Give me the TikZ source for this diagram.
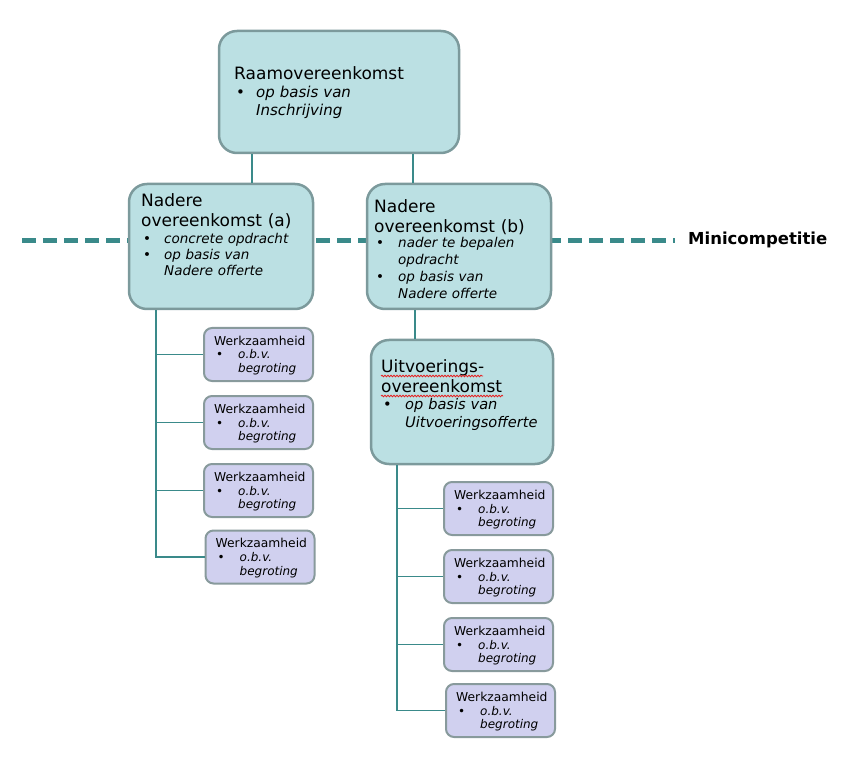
\documentclass[tikz,border=0pt]{standalone}
\usepackage{fontspec}
\setmainfont{DejaVu Sans}
\usetikzlibrary{decorations.pathmorphing,calc}
\definecolor{boxfill}{RGB}{187,224,227}
\definecolor{boxedge}{RGB}{124,154,156}
\definecolor{smallfill}{RGB}{208,208,239}
\definecolor{smalledge}{RGB}{136,154,156}
\definecolor{conn}{RGB}{58,138,138}
\definecolor{spellred}{RGB}{230,30,30}
\newcommand{\bul}[1]{\makebox[#1][l]{\upshape\textbullet}}
\tikzset{
  bigbox/.style={draw=boxedge, fill=boxfill, line width=2.5pt, rounded corners=18pt, inner sep=0pt},
  smallbox/.style={draw=smalledge, fill=smallfill, line width=2pt, rounded corners=8pt, inner sep=0pt,
    minimum width=109pt, minimum height=53pt},
  title/.style={anchor=base west, inner sep=0pt, text width=220pt, align=left, font=\fontsize{17}{20}\selectfont},
  bullets/.style={anchor=base west, inner sep=0pt, text width=220pt, align=left},
  stitle/.style={anchor=base west, inner sep=0pt, font=\fontsize{12.3}{13}\selectfont},
  sbul/.style={anchor=base west, inner sep=0pt, text width=100pt, align=left, font=\fontsize{12}{13.5}\selectfont\itshape},
  connector/.style={draw=conn, line width=1.7pt},
  minidash/.style={draw=conn, line width=5pt, dash pattern=on 14pt off 7pt},
  spell/.style={draw=spellred, line width=0.8pt, decorate, decoration={snake, amplitude=0.8pt, segment length=3pt}}
}
\newcommand{\werk}[2]{%
  \node[stitle] (#1t) at ($(#2.north west)+(11,18)$) {Werkzaamheid};
  \node[sbul] (#1b) at ($(#2.north west)+(13,32)$) {\bul{22pt}o.b.v.\\\hspace*{22pt}begroting};
}
\begin{document}
\begin{tikzpicture}[x=1pt,y=-1pt]
\useasboundingbox (0,0) rectangle (849,759);
% dashed minicompetitie line
\coordinate (dl) at (22,241);
\coordinate (dr) at (675,241);
\draw[minidash] (dl) -- (dr);
\node[anchor=base west, inner sep=0pt, font=\fontsize{16.5}{18}\selectfont\bfseries] (mini) at (688,245) {Minicompetitie};

% big boxes
\node[bigbox, minimum width=240pt, minimum height=122pt] (raam) at (339,92) {};
\node[bigbox, minimum width=184pt, minimum height=125pt] (nadA) at (221,246.5) {};
\node[bigbox, minimum width=184pt, minimum height=125pt] (nadB) at (459,246.5) {};
\node[bigbox, minimum width=182pt, minimum height=124pt] (uitv) at (462,402) {};

% connectors between big boxes
\draw[connector] (raam.south -| 252,0) -- (nadA.north -| 252,0);
\draw[connector] (raam.south -| 413,0) -- (nadB.north -| 413,0);
\draw[connector] (nadB.south -| 415,0) -- (uitv.north -| 415,0);

% texts of big boxes
\node[title] (raamT) at (234,80) {Raamovereenkomst};
\node[bullets, font=\fontsize{15}{18}\selectfont\itshape] (raamB) at (236,98)
  {\bul{20pt}op basis van\\\hspace*{20pt}Inschrijving};

\node[title] (nadAT) at (141,207) {Nadere\\overeenkomst (a)};
\node[bullets, font=\fontsize{13.5}{16}\selectfont\itshape] (nadAB) at (143,244)
  {\bul{21pt}concrete opdracht\\\bul{21pt}op basis van\\\hspace*{21pt}Nadere offerte};

\node[title] (nadBT) at (374,213) {Nadere\\overeenkomst (b)};
\node[bullets, font=\fontsize{13.5}{17}\selectfont\itshape] (nadBB) at (376,248)
  {\bul{22pt}nader te bepalen\\\hspace*{22pt}opdracht\\\bul{22pt}op basis van\\\hspace*{22pt}Nadere offerte};

\node[title] (uitvT) at (381,373) {Uitvoerings-\\overeenkomst};
\node[bullets, font=\fontsize{14.6}{18}\selectfont\itshape] (uitvB) at (383,409)
  {\bul{22pt}op basis van\\\hspace*{22pt}Uitvoeringsofferte};
\draw[spell] (uitvT.base west) ++(0,3) -- ++(102,0);
\draw[spell] (uitvT.base west) ++(0,23) -- ++(122,0);

% small boxes left
\node[smallbox] (wa1) at (258.5,354.5) {};
\node[smallbox] (wa2) at (258.5,422.5) {};
\node[smallbox] (wa3) at (258.5,490.5) {};
\node[smallbox] (wa4) at (260,557) {};
% small boxes right
\node[smallbox] (wb1) at (498.5,508.5) {};
\node[smallbox] (wb2) at (498.5,576.5) {};
\node[smallbox] (wb3) at (498.5,644.5) {};
\node[smallbox] (wb4) at (500.5,710.5) {};

\werk{wa1}{wa1}
\werk{wa2}{wa2}
\werk{wa3}{wa3}
\werk{wa4}{wa4}
\werk{wb1}{wb1}
\werk{wb2}{wb2}
\werk{wb3}{wb3}
\werk{wb4}{wb4}

% trees
\draw[connector] (nadA.south -| 156,0) -- (wa4.west -| 156,0) -- (wa4.west);
\foreach \n in {wa1,wa2,wa3} \draw[connector] (\n.west -| 156,0) -- (\n.west);
\draw[connector] (uitv.south -| 397,0) -- (wb4.west -| 397,0) -- (wb4.west);
\foreach \n in {wb1,wb2,wb3} \draw[connector] (\n.west -| 397,0) -- (\n.west);
\end{tikzpicture}
\end{document}
